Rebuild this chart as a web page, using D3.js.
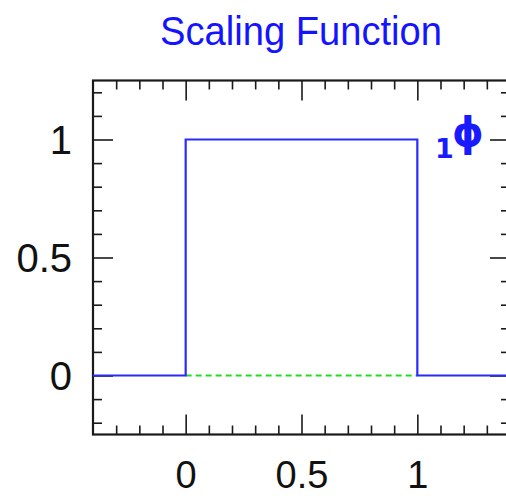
<!DOCTYPE html>
<html>
<head>
<meta charset="utf-8">
<script src="https://cdn.jsdelivr.net/npm/d3@7"></script>
<style>
  html, body { margin: 0; padding: 0; background: #fff; overflow: hidden; }
  svg { display: block; }
</style>
</head>
<body>
<svg id="chart" width="506" height="496"></svg>
<script>
// Haar scaling function phi(x): 1 on [0,1), 0 elsewhere
const phiX = [-0.4, 0, 0, 1, 1, 1.4];
const phiY = [0, 0, 1, 1, 0, 0];
// dashed zero reference under the support
const refX = [0, 1];
const refY = [0, 0];

const xMajor = [0, 0.5, 1];
const xMajorLabels = ["0", "0.5", "1"];
const yMajor = [0, 0.5, 1];
const yMajorLabels = ["0", "0.5", "1"];
const xMinor = [-0.3, -0.2, -0.1, 0.1, 0.2, 0.3, 0.4, 0.6, 0.7, 0.8, 0.9, 1.1, 1.2, 1.3];
const yMinor = [-0.2, -0.1, 0.1, 0.2, 0.3, 0.4, 0.6, 0.7, 0.8, 0.9, 1.1, 1.2];

const svg = d3.select("#chart");
const pLeft = 93, pRight = 510, pTop = 80.5, pBottom = 434.5;

const x = d3.scaleLinear().domain([-0.4, 1.4]).range([pLeft, pRight]);
const y = d3.scaleLinear().domain([-0.25, 1.25]).range([pBottom, pTop]);

const axisColor = "#1a1a1a";
const minorLen = 9, majorLen = 20;

function styleAxis(g) {
  g.select(".domain").remove();
  g.selectAll(".tick line").attr("stroke", axisColor).attr("stroke-width", 1.6);
}

// bottom axis: minor + major (labelled)
svg.append("g").attr("transform", `translate(0,${pBottom})`)
  .call(d3.axisBottom(x).tickValues(xMinor).tickSize(-minorLen).tickFormat(""))
  .call(styleAxis);
const bx = svg.append("g").attr("transform", `translate(0,${pBottom})`)
  .call(d3.axisBottom(x).tickValues(xMajor).tickSize(-majorLen)
    .tickFormat((d, i) => xMajorLabels[i]))
  .call(styleAxis);
bx.selectAll(".tick text")
  .attr("y", 488 - pBottom).attr("dy", 0)
  .attr("font-family", "Liberation Sans, Arial, sans-serif")
  .attr("font-size", 38).attr("fill", "#111");

// top axis
svg.append("g").attr("transform", `translate(0,${pTop})`)
  .call(d3.axisTop(x).tickValues(xMinor).tickSize(-minorLen).tickFormat(""))
  .call(styleAxis);
svg.append("g").attr("transform", `translate(0,${pTop})`)
  .call(d3.axisTop(x).tickValues(xMajor).tickSize(-majorLen).tickFormat(""))
  .call(styleAxis);

// left axis: minor + major (labelled)
svg.append("g").attr("transform", `translate(${pLeft},0)`)
  .call(d3.axisLeft(y).tickValues(yMinor).tickSize(-minorLen).tickFormat(""))
  .call(styleAxis);
const ly = svg.append("g").attr("transform", `translate(${pLeft},0)`)
  .call(d3.axisLeft(y).tickValues(yMajor).tickSize(-majorLen)
    .tickFormat((d, i) => yMajorLabels[i]))
  .call(styleAxis);
ly.selectAll(".tick text")
  .attr("x", 72 - pLeft).attr("dy", "0.36em")
  .attr("text-anchor", "end")
  .attr("font-family", "Liberation Sans, Arial, sans-serif")
  .attr("font-size", 40).attr("fill", "#111");

// right axis
svg.append("g").attr("transform", `translate(${pRight},0)`)
  .call(d3.axisRight(y).tickValues(yMinor).tickSize(-minorLen).tickFormat(""))
  .call(styleAxis);
svg.append("g").attr("transform", `translate(${pRight},0)`)
  .call(d3.axisRight(y).tickValues(yMajor).tickSize(-majorLen).tickFormat(""))
  .call(styleAxis);

// frame
svg.append("rect")
  .attr("x", pLeft).attr("y", pTop)
  .attr("width", pRight - pLeft).attr("height", pBottom - pTop)
  .attr("fill", "none").attr("stroke", axisColor).attr("stroke-width", 2.2);

const line = d3.line().x(d => x(d[0])).y(d => y(d[1]));

// zero reference (dashed green)
svg.append("path")
  .datum(d3.zip(refX, refY))
  .attr("d", line)
  .attr("fill", "none")
  .attr("stroke", "#22dd22")
  .attr("stroke-width", 2)
  .attr("stroke-dasharray", "6,4");

// scaling function (blue)
svg.append("path")
  .datum(d3.zip(phiX, phiY))
  .attr("d", line)
  .attr("fill", "none")
  .attr("stroke", "#2a2aff")
  .attr("stroke-width", 2.2);

// curve label
const lab = svg.append("g").attr("fill", "#1a1aff")
  .attr("font-family", "DejaVu Sans, sans-serif").attr("font-weight", "bold");
lab.append("text").attr("x", 435).attr("y", 158).attr("font-size", 27).text("1");
lab.append("text").attr("x", 452).attr("y", 146).attr("font-size", 40).text("\u03D5");

// title
svg.append("text")
  .attr("x", 301).attr("y", 45)
  .attr("text-anchor", "middle")
  .attr("font-family", "Liberation Sans, Arial, sans-serif")
  .attr("font-size", 41)
  .attr("textLength", 282).attr("lengthAdjust", "spacingAndGlyphs")
  .attr("fill", "#1414ff")
  .text("Scaling Function");
</script>
</body>
</html>
